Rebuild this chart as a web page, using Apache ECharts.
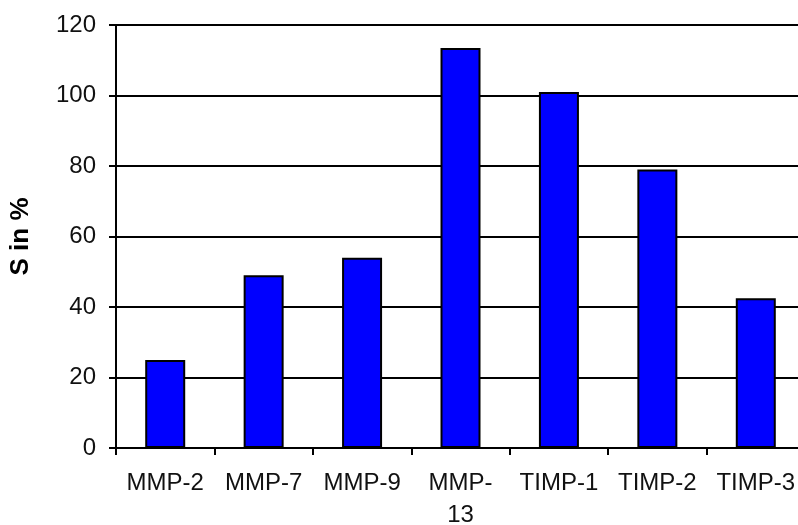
<!DOCTYPE html>
<html><head><meta charset="utf-8">
<script src="https://cdn.jsdelivr.net/npm/echarts@6/dist/echarts.min.js"></script>
<style>html,body{margin:0;padding:0;background:#fff;overflow:hidden;width:798px;height:525px}#c{width:798px;height:525px;overflow:hidden}</style>
</head><body><div id="c"></div>
<script>
const categories = ['MMP-2', 'MMP-7', 'MMP-9', 'MMP-\n13', 'TIMP-1', 'TIMP-2', 'TIMP-3'];
const values = [25, 49, 54, 113.5, 101, 79, 42.5];
const chart = echarts.init(document.getElementById('c'));
chart.setOption({
  animation: false,
  grid: { left: 116, right: -7, top: 25, bottom: 77, containLabel: false, outerBoundsMode: 'none' },
  xAxis: {
    type: 'category', data: categories,
    axisLine: { lineStyle: { color: '#000', width: 2 } },
    axisTick: { show: true, length: 7, lineStyle: { color: '#000', width: 2 } },
    axisLabel: { color: '#111', fontFamily: 'Liberation Sans, Arial', fontSize: 24, margin: 19, lineHeight: 32, interval: 0 }
  },
  yAxis: {
    type: 'value', min: 0, max: 120, interval: 20,
    name: 'S in %', nameLocation: 'middle', nameGap: 82, nameRotate: 90,
    nameTextStyle: { color: '#000', fontFamily: 'Liberation Sans, Arial', fontSize: 26, fontWeight: 'bold' },
    axisLine: { show: true, lineStyle: { color: '#000', width: 2 } },
    axisTick: { show: true, length: 7, lineStyle: { color: '#000', width: 2 } },
    axisLabel: { color: '#111', fontFamily: 'Liberation Sans, Arial', fontSize: 24, margin: 20 },
    splitLine: { show: true, lineStyle: { color: '#000', width: 2 } }
  },
  series: [{
    type: 'bar', data: values, barWidth: 40,
    itemStyle: { color: '#0000ff', borderColor: '#000', borderWidth: 2 }
  }]
});
</script></body></html>
